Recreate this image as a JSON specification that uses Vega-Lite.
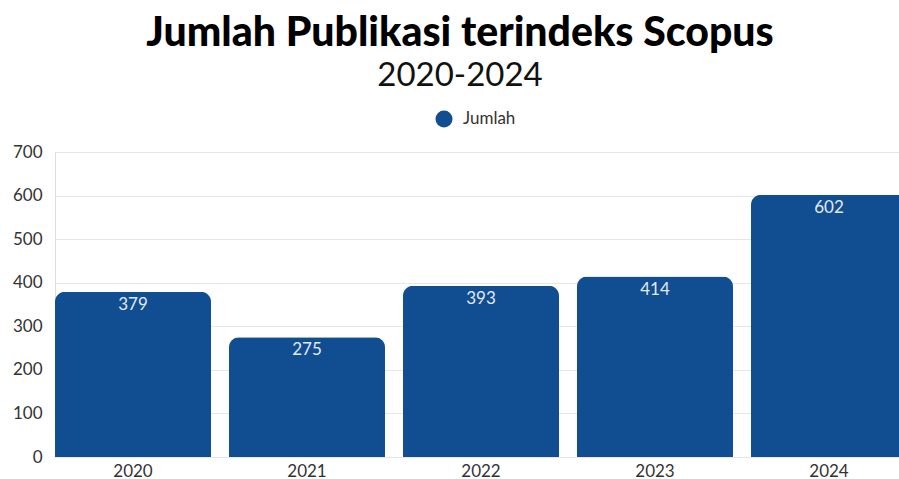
{
  "$schema": "https://vega.github.io/schema/vega-lite/v6.json",
  "autosize": "none",
  "width": 852,
  "height": 305,
  "padding": {"left": 55, "top": 152, "right": 0, "bottom": 22},
  "background": "white",
  "title": {
    "text": "Jumlah Publikasi terindeks Scopus",
    "subtitle": "2020-2024",
    "anchor": "middle",
    "frame": "group",
    "dx": -21,
    "offset": 16,
    "font": "Lato",
    "fontSize": 41,
    "fontWeight": 900,
    "color": "#000000",
    "subtitleFont": "Lato",
    "subtitleFontSize": 33,
    "subtitleColor": "#111111",
    "subtitlePadding": 5
  },
  "data": {
    "values": [
      {"tahun": "2020", "jumlah": 379, "seri": "Jumlah"},
      {"tahun": "2021", "jumlah": 275, "seri": "Jumlah"},
      {"tahun": "2022", "jumlah": 393, "seri": "Jumlah"},
      {"tahun": "2023", "jumlah": 414, "seri": "Jumlah"},
      {"tahun": "2024", "jumlah": 602, "seri": "Jumlah"}
    ]
  },
  "encoding": {
    "x": {
      "field": "tahun",
      "type": "ordinal",
      "scale": {"paddingInner": 0.1034, "paddingOuter": 0},
      "axis": {
        "title": null,
        "labelAngle": 0,
        "labelFont": "Lato",
        "labelFontSize": 17,
        "labelColor": "#333333",
        "ticks": false,
        "domain": false,
        "labelPadding": 6
      }
    },
    "y": {
      "field": "jumlah",
      "type": "quantitative",
      "scale": {"domain": [0, 700]},
      "axis": {
        "title": null,
        "values": [0, 100, 200, 300, 400, 500, 600, 700],
        "labelFont": "Lato",
        "labelFontSize": 17,
        "labelColor": "#333333",
        "ticks": false,
        "domain": false,
        "labelPadding": 13,
        "gridColor": "#e6e6e6"
      }
    }
  },
  "layer": [
    {
      "mark": {"type": "bar", "cornerRadiusTopLeft": 10, "cornerRadiusTopRight": 10, "clip": false},
      "encoding": {
        "color": {
          "field": "seri",
          "type": "nominal",
          "scale": {"range": ["#114e91"]},
          "legend": {
            "title": null,
            "orient": "none",
            "legendX": 380,
            "legendY": -42,
            "symbolType": "circle",
            "symbolSize": 290,
            "symbolStrokeWidth": 0,
            "labelFont": "Lato",
            "labelFontSize": 17,
            "labelColor": "#333333",
            "labelOffset": 10
          }
        }
      }
    },
    {
      "mark": {"type": "text", "baseline": "top", "dy": 5, "font": "Lato", "fontSize": 17, "color": "#e4e9f1"},
      "encoding": {"text": {"field": "jumlah", "type": "quantitative"}}
    }
  ]
}
